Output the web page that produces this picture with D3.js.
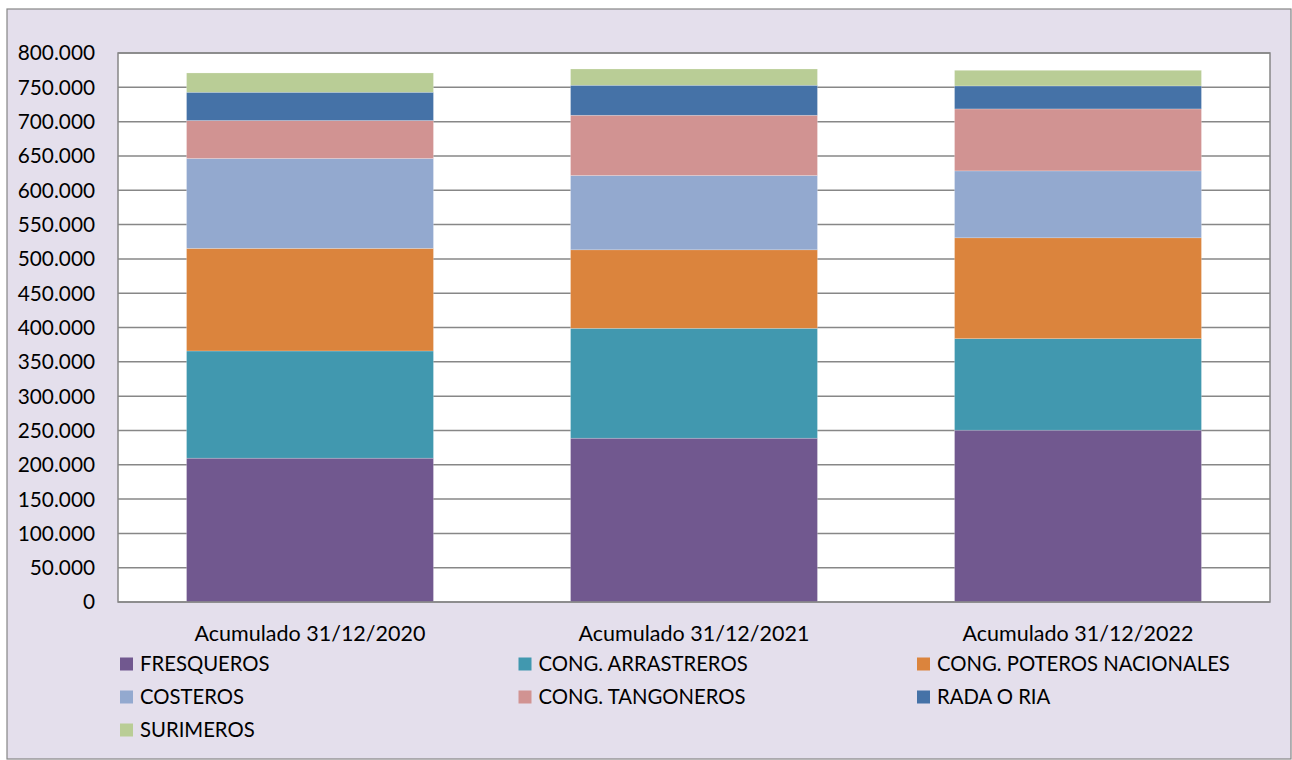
<!DOCTYPE html>
<html>
<head>
<meta charset="utf-8">
<script src="https://cdn.jsdelivr.net/npm/d3@7"></script>
<style>
  body { margin: 0; background: #fff; }
  svg text { font-family: Lato, "Open Sans", sans-serif; fill: #000; }
</style>
</head>
<body>
<div id="chart"></div>
<script>
// categories on the x axis
const categories = ["Acumulado 31/12/2020", "Acumulado 31/12/2021", "Acumulado 31/12/2022"];

// fleet segments, bottom to top
const series = ["FRESQUEROS", "CONG. ARRASTREROS", "CONG. POTEROS NACIONALES",
                "COSTEROS", "CONG. TANGONEROS", "RADA O RIA", "SURIMEROS"];

const colors = ["#71588F", "#4198AF", "#DB843D", "#93A9CF", "#D19392", "#4572A7", "#B9CD96"];

// values per category (same order as categories)
const fresqueros  = [209600, 238700, 250400];
const arrastreros = [156200, 160100, 133300];
const poteros     = [149500, 114400, 147000];
const costeros    = [131000, 108300,  97500];
const tangoneros  = [ 55300,  87800,  90300];
const rada        = [ 41200,  43700,  33500];
const surimeros   = [ 28100,  23700,  22800];

const yTicks = d3.range(0, 800001, 50000);

const W = 1292, H = 760;
const svg = d3.select("#chart").append("svg")
    .attr("width", W)
    .attr("height", H);

// chart area
svg.append("rect")
    .attr("x", 7).attr("y", 9)
    .attr("width", W - 8).attr("height", H - 10)
    .attr("fill", "#E4DFEC")
    .attr("stroke", "#868686")
    .attr("stroke-width", 1.2);

const plot = {left: 118, top: 53, right: 1270, bottom: 602};

// table for d3.stack
const seriesData = [fresqueros, arrastreros, poteros, costeros, tangoneros, rada, surimeros];
const table = categories.map((c, i) => {
    let row = {cat: c};
    series.forEach((s, j) => row[s] = seriesData[j][i]);
    return row;
});
const stacked = d3.stack().keys(series)(table);

const x = d3.scaleBand()
    .domain(categories)
    .range([plot.left, plot.right])
    .paddingInner(0.357)
    .paddingOuter(0.1785);

const y = d3.scaleLinear()
    .domain([0, 800000])
    .range([plot.bottom, plot.top]);

// plot area
svg.append("rect")
    .attr("x", plot.left).attr("y", plot.top)
    .attr("width", plot.right - plot.left).attr("height", plot.bottom - plot.top)
    .attr("fill", "#fff");

// gridlines
svg.append("g")
    .selectAll("line")
    .data(yTicks)
    .join("line")
    .attr("x1", plot.left).attr("x2", plot.right)
    .attr("y1", d => y(d)).attr("y2", d => y(d))
    .attr("stroke", "#878787")
    .attr("stroke-width", 1.5);

// bars
svg.append("g")
    .selectAll("g")
    .data(stacked)
    .join("g")
    .attr("fill", (d, i) => colors[i])
    .selectAll("rect")
    .data(d => d)
    .join("rect")
    .attr("x", d => x(d.data.cat))
    .attr("y", d => y(d[1]))
    .attr("width", x.bandwidth())
    .attr("height", d => y(d[0]) - y(d[1]))
    .attr("stroke", "rgba(255,255,255,0.35)")
    .attr("stroke-width", 0.6);

// plot border
svg.append("rect")
    .attr("x", plot.left).attr("y", plot.top)
    .attr("width", plot.right - plot.left).attr("height", plot.bottom - plot.top)
    .attr("fill", "none")
    .attr("stroke", "#878787")
    .attr("stroke-width", 1.5);

// y axis labels
const fmt = d => d === 0 ? "0" : d3.format(",")(d).replace(/,/g, ".");
svg.append("g")
    .selectAll("text")
    .data(yTicks)
    .join("text")
    .attr("x", 95)
    .attr("y", d => y(d))
    .attr("dy", "0.36em")
    .attr("text-anchor", "end")
    .style("font-size", "20.8px")
    .text(fmt);

// x axis labels
svg.append("g")
    .selectAll("text")
    .data(categories)
    .join("text")
    .attr("x", d => x(d) + x.bandwidth() / 2)
    .attr("y", 641)
    .attr("text-anchor", "middle")
    .style("font-size", "21.5px")
    .text(d => d);

// legend, three columns
const legend = svg.append("g")
    .selectAll("g")
    .data(series)
    .join("g")
    .attr("transform", (d, i) => `translate(${120 + (i % 3) * 398.5}, ${664 + Math.floor(i / 3) * 33})`);

legend.append("rect")
    .attr("x", 0).attr("y", -6.5)
    .attr("width", 13).attr("height", 13)
    .attr("fill", (d, i) => colors[i]);

legend.append("text")
    .attr("x", 20)
    .attr("y", 0)
    .attr("dy", "0.36em")
    .style("font-size", "20.3px")
    .text(d => d);
</script>
</body>
</html>
